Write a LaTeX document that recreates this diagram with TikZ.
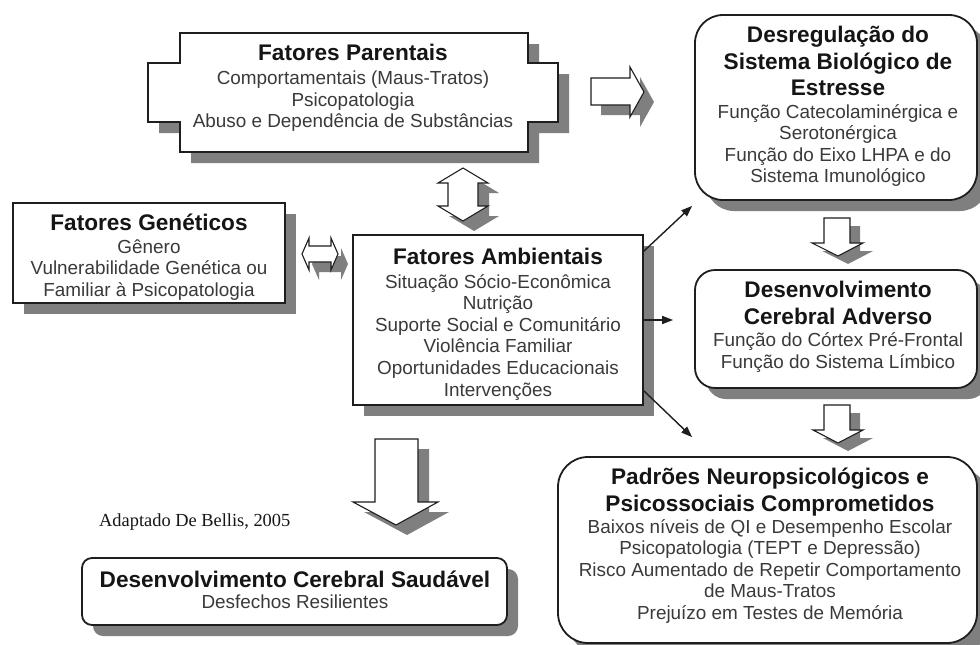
\documentclass[tikz,border=0pt]{standalone}
\usepackage{fontspec}
\setmainfont{Liberation Sans}
\newfontfamily\adaptfont{Liberation Serif}
\usetikzlibrary{arrows.meta,shadows,calc}
\definecolor{shadowc}{HTML}{7F7F7F}
\definecolor{linec}{HTML}{1E1E1E}
\definecolor{titlec}{HTML}{151515}
\definecolor{subc}{HTML}{3A3A3A}
\newcommand\TitleFont{\fontsize{22.6}{26.6}\selectfont\bfseries}
\newcommand\SubFont{\fontsize{18.9}{21.6}\selectfont}
\newcommand\txtstack[1]{\begin{tabular}[t]{@{}c@{}}#1\end{tabular}}
\begin{document}
\begin{tikzpicture}[x=1pt,y=-1pt,
  boxshadow/.style={drop shadow={shadow xshift=11pt,shadow yshift=-11pt,fill=shadowc,opacity=1}},
  sqbox/.style={draw=linec,line width=1.8pt,fill=white,inner sep=0pt,boxshadow},
  rbox/.style={sqbox,rounded corners=#1},
  titletext/.style={anchor=base,inner sep=0pt,text=titlec,font=\TitleFont},
  subtext/.style={anchor=base,inner sep=0pt,text=subc,font=\SubFont},
  conn/.style={draw=linec,line width=1.4pt,-{Triangle[length=11pt,width=8pt]}},
  blockarrow/.style={draw=linec,line width=1.1pt,fill=white,line join=miter},
  arrshadow/.style 2 args={drop shadow={shadow xshift=#1,shadow yshift=#2,fill=shadowc,opacity=1}}
]
\fill[white] (0,0) rectangle (980,645);
\useasboundingbox (0,0) rectangle (980,645);

% ---------- Fatores Parentais (notched box)
\node[inner sep=0pt,minimum width=348pt,minimum height=119pt] (par) at (354,92.5) {};
\draw[draw=linec,line width=1.8pt,fill=white,line join=miter,boxshadow]
  (180,33) -- (528,33) -- (528,63) -- (558,63) -- (558,122) -- (528,122) -- (528,152)
  -- (180,152) -- (180,122) -- (148,122) -- (148,63) -- (180,63) -- cycle;
\node[titletext] (parT) at (353,60.5) {Fatores Parentais};
\node[subtext] (parS) at (353,84.6) {\txtstack{Comportamentais (Maus-Tratos)\\Psicopatologia\\Abuso e Dependência de Substâncias}};

% ---------- boxes
\node[sqbox,minimum width=272pt,minimum height=100pt] (gen) at (149,253) {};
\node[titletext] (genT) at (149,230.7) {Fatores Genéticos};
\node[subtext] (genS) at (149,253) {\txtstack{Gênero\\Vulnerabilidade Genética ou\\Familiar à Psicopatologia}};

\node[sqbox,minimum width=290pt,minimum height=170pt] (amb) at (498,320) {};
\node[titletext] (ambT) at (498,264.7) {Fatores Ambientais};
\node[subtext] (ambS) at (498,288.1) {\txtstack{Situação Sócio-Econômica\\Nutrição\\Suporte Social e Comunitário\\Violência Familiar\\Oportunidades Educacionais\\Intervenções}};

\node[rbox=28pt,minimum width=282pt,minimum height=185pt] (desr) at (836,107.5) {};
\node[titletext] (desrT) at (838,42.7) {\txtstack{Desregulação do\\Sistema Biológico de\\Estresse}};
\node[subtext] (desrS) at (838,118.1) {\txtstack{Função Catecolaminérgica e\\Serotonérgica\\Função do Eixo LHPA e do\\Sistema Imunológico}};

\node[rbox=20pt,minimum width=282pt,minimum height=118pt] (adv) at (836,329) {};
\node[titletext] (advT) at (838,297.7) {\txtstack{Desenvolvimento\\Cerebral Adverso}};
\node[subtext] (advS) at (838,346.4) {\txtstack{Função do Córtex Pré-Frontal\\Função do Sistema Límbico}};

\node[rbox=30pt,minimum width=419pt,minimum height=186pt] (pad) at (767.5,550) {};
\node[titletext] (padT) at (770,484.4) {\txtstack{Padrões Neuropsicológicos e\\Psicossociais Comprometidos}};
\node[subtext] (padS) at (770,533.1) {\txtstack{Baixos níveis de QI e Desempenho Escolar\\Psicopatologia (TEPT e Depressão)\\Risco Aumentado de Repetir Comportamento\\de Maus-Tratos\\Prejuízo em Testes de Memória}};

\node[rbox=10pt,minimum width=425pt,minimum height=67pt] (sau) at (294.5,591.5) {};
\node[titletext] (sauT) at (295,587.7) {Desenvolvimento Cerebral Saudável};
\node[subtext] (sauS) at (295,608.1) {Desfechos Resilientes};

\node[anchor=base west,inner sep=0pt,font=\adaptfont\fontsize{18.4}{22}\selectfont,text=titlec] (src) at (99,526.5) {Adaptado De Bellis, 2005};

% ---------- block arrows
\draw[blockarrow,arrshadow={10pt}{-10pt}]
  (591,78) -- (630,78) -- (630,67) -- (644,92) -- (630,117) -- (630,105) -- (591,105) -- cycle;
\draw[blockarrow,arrshadow={11pt}{-10pt}]
  (463,168) -- (488,183) -- (478,183) -- (478,206) -- (488,206) -- (463,221)
  -- (438,206) -- (448,206) -- (448,183) -- (438,183) -- cycle;
\draw[blockarrow,arrshadow={10pt}{-10pt}]
  (302,254) -- (309,238) -- (309,246) -- (331,246) -- (331,238) -- (338,254)
  -- (331,270) -- (331,262) -- (309,262) -- (309,270) -- cycle;
\draw[blockarrow,arrshadow={10pt}{-8pt}]
  (824,218) -- (850,218) -- (850,243) -- (863,243) -- (838,256) -- (812,243) -- (824,243) -- cycle;
\draw[blockarrow,arrshadow={10pt}{-8pt}]
  (824,405) -- (850,405) -- (850,430) -- (863,430) -- (838,443) -- (813,430) -- (824,430) -- cycle;
\draw[blockarrow,arrshadow={11pt}{-10pt}]
  (375,439) -- (418,439) -- (418,502) -- (438,502) -- (396,525) -- (353,502) -- (375,502) -- cycle;

% ---------- connectors
\draw[conn] ($(amb.north east)+(0,17)$) -- ($(desr.south west)+(-2,5)$);
\draw[conn,shorten >=21pt] (amb.east) -- (amb.east -| adv.west);
\draw[conn] ($(amb.south east)+(0,-15)$) -- ($(pad.north west)+(135,-19)$);
\end{tikzpicture}
\end{document}
